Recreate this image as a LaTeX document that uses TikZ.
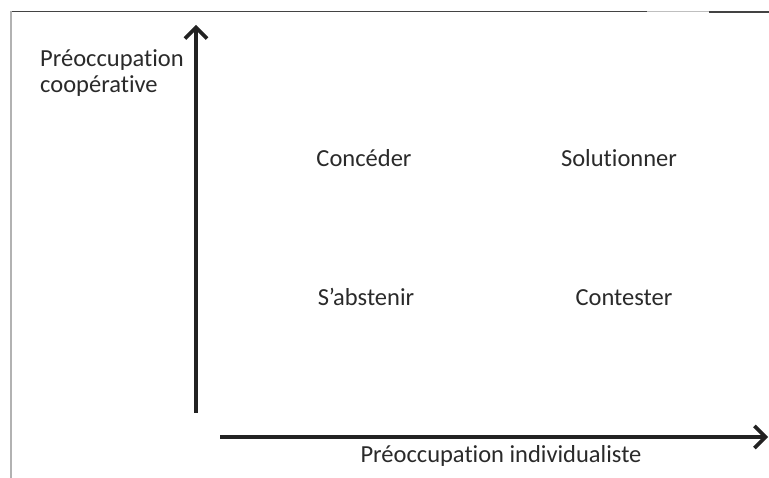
\documentclass[tikz,border=0pt]{standalone}
\usepackage{fontspec}
\setmainfont{Carlito}[Ligatures={NoCommon,NoRequired,NoContextual}]
\usetikzlibrary{arrows.meta}
\definecolor{ink}{HTML}{2A2A2A}
\definecolor{axis}{HTML}{222222}
\begin{document}
\begin{tikzpicture}[x=1pt,y=-1pt,
  label/.style={font=\fontsize{24.5}{27}\selectfont, text=ink, inner sep=0pt, anchor=base},
  axisline/.style={draw=axis, line width=3.6pt, -{Straight Barb[length=11pt,width=22pt,line width=3.6pt]}}]
  \useasboundingbox (0,0) rectangle (769,478);
  % frame fragments
  \draw[line width=1.6pt, draw=axis!85] (11,11.5) -- (647,11.5);
  \draw[line width=1.2pt, draw=black!25] (647,11.5) -- (709,11.5);
  \draw[line width=1.6pt, draw=axis!85] (709,12.3) -- (769,12.3);
  \draw[line width=1.2pt, draw=black!30] (11,11) -- (11,478);
  % axes
  \coordinate (yfoot) at (196,413);
  \coordinate (ytip) at (196,25);
  \coordinate (xfoot) at (220,437);
  \coordinate (xtip) at (768,437);
  \draw[axisline] (yfoot) -- (ytip);
  \draw[axisline] (xfoot) -- (xtip);
  % axis titles
  \node[label, anchor=base west] (ytitle1) at (40,67) {Préoccupation};
  \node[label, anchor=base west] (ytitle2) at (40,93) {coopérative};
  \node[label] (xtitle) at (501,462) {Préoccupation individualiste};
  % quadrants
  \node[label] (conceder) at (364,167) {Concéder};
  \node[label] (solution) at (619,167) {Solutionner};
  \node[label] (abstenir) at (366,306) {S’abstenir};
  \node[label] (contester) at (624,306) {Contester};
\end{tikzpicture}
\end{document}
